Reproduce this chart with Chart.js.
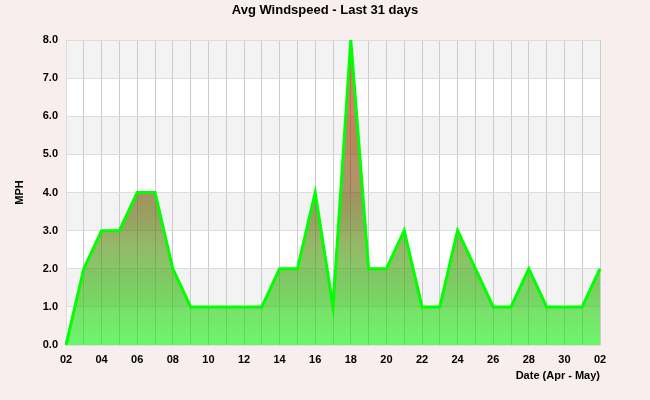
<!DOCTYPE html>
<html>
<head>
<meta charset="utf-8">
<script src="https://cdn.jsdelivr.net/npm/chart.js@4/dist/chart.umd.min.js"></script>
<style>
  html, body { margin: 0; padding: 0; background: #f7eeed; }
  #wrap { width: 650px; height: 400px; }
</style>
</head>
<body>
<div id="wrap"><canvas id="chartContainer" width="650" height="400"></canvas></div>
<script>
// day labels, Apr 02 .. May 02
var days = ['02','03','04','05','06','07','08','09','10','11','12','13','14','15','16',
            '17','18','19','20','21','22','23','24','25','26','27','28','29','30','01','02'];
// avg windspeed, mph
var windspeed = [0,2,3,3,4,4,2,1,1,1,1,1,2,2,4,1,8,2,2,3,1,1,3,2,1,1,2,1,1,1,2];
var yMin = 0, yMax = 8, yStep = 1;

// alternating horizontal bands behind the plot
var bands = {
	id: 'bands',
	beforeDraw: function (chart) {
		var ctx = chart.ctx, area = chart.chartArea, y = chart.scales.y;
		ctx.save();
		ctx.fillStyle = '#ffffff';
		ctx.fillRect(area.left, area.top, area.right - area.left, area.bottom - area.top);
		ctx.fillStyle = '#f3f3f3';
		for (var v = yMin + 1; v < yMax; v += 2) {
			var top = y.getPixelForValue(v + 1), bot = y.getPixelForValue(v);
			ctx.fillRect(area.left, top, area.right - area.left, bot - top);
		}
		ctx.restore();
	}
};

function fillGradient(context) {
	var chart = context.chart, area = chart.chartArea;
	if (!area) return 'rgba(0,240,0,0.58)';
	var y = chart.scales.y;
	var g = chart.ctx.createLinearGradient(0, y.getPixelForValue(yMin), 0, y.getPixelForValue(yMax));
	g.addColorStop(0, 'rgba(0,240,0,0.58)');
	g.addColorStop(0.5, 'rgba(110,80,0,0.6)');
	g.addColorStop(1, 'rgba(225,25,0,0.6)');
	return g;
}

var font = { family: 'Liberation Sans, Arial, sans-serif', size: 11, weight: 'bold' };

var ctx = document.getElementById('chartContainer').getContext('2d');
var windChart = new Chart(ctx, {
	type: 'line',
	data: {
		labels: days,
		datasets: [{
			label: 'Avg Windspeed',
			data: windspeed,
			borderColor: '#00ff00',
			borderWidth: 3,
			backgroundColor: fillGradient,
			fill: 'origin',
			pointRadius: 0,
			tension: 0
		}]
	},
	plugins: [bands],
	options: {
		responsive: false,
		animation: false,
		layout: { padding: 0 },
		plugins: {
			legend: { display: false },
			tooltip: { enabled: false },
			title: {
				display: true,
				text: 'Avg Windspeed - Last 31 days',
				color: '#000',
				font: { family: font.family, size: 13, weight: 'bold' },
				padding: { top: 3, bottom: 21.4 }
			}
		},
		scales: {
			x: {
				offset: false,
				grid: { color: '#cccccc', drawTicks: false },
				border: { color: '#dddddd' },
				ticks: {
					color: '#000', font: font, padding: 8, maxRotation: 0, autoSkip: false,
					callback: function (val, i) { return i % 2 === 0 ? days[i] : ''; }
				},
				title: {
					display: true, text: 'Date (Apr - May)', align: 'end', color: '#000',
					font: font, padding: { top: 0, bottom: 17 }
				},
				afterFit: function (s) { s.height = 55; }
			},
			y: {
				min: yMin, max: yMax,
				grid: { color: '#dddddd', drawTicks: false },
				border: { color: '#dddddd' },
				ticks: {
					stepSize: yStep, color: '#000', font: font, padding: 8,
					callback: function (v) { return v.toFixed(1); }
				},
				title: {
					display: true, text: 'MPH', color: '#000', font: font,
					padding: { top: 13, bottom: 0 }
				},
				afterFit: function (s) { s.width = 66; }
			},
			// empty right margin so the title centres on the whole canvas
			yRight: {
				position: 'right',
				grid: { display: false },
				border: { display: false },
				ticks: { display: false },
				afterFit: function (s) { s.width = 50; }
			}
		}
	}
});
</script>
</body>
</html>
